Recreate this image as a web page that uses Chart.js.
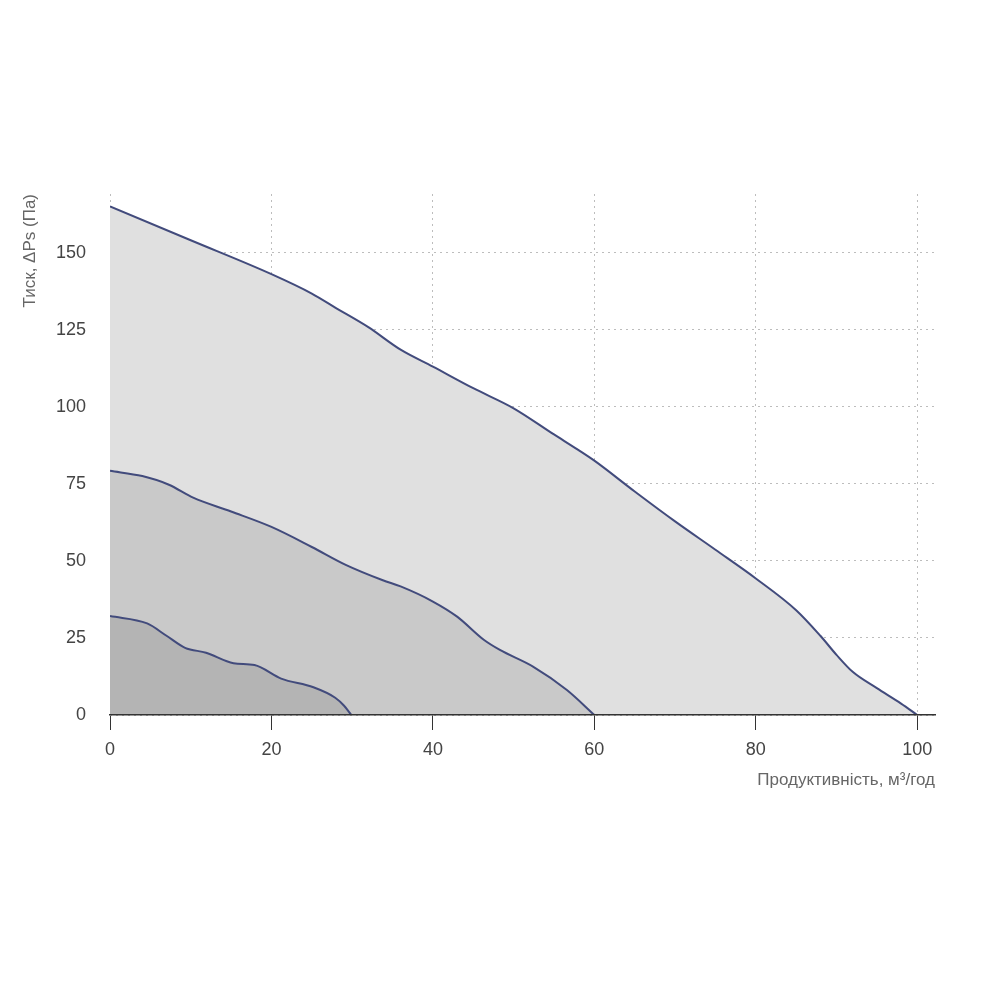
<!DOCTYPE html>
<html>
<head>
<meta charset="utf-8">
<script src="https://cdn.jsdelivr.net/npm/chart.js@4/dist/chart.umd.min.js"></script>
<style>
  html, body { margin: 0; padding: 0; background: #fff; }
  #wrap { width: 1000px; height: 1000px; }
</style>
</head>
<body>
<div id="wrap"><canvas id="fanChart" width="1000" height="1000"></canvas></div>
<script>
// Робочі криві (продуктивність, м³/год -> тиск, Па)
var smallFlow = [0, 4.6, 7, 9.3, 11.9, 15.3, 17.9, 21.2, 25.2, 27.9, 29, 29.9];
var smallPress = [32.1, 29.7, 25.7, 21.8, 20.2, 16.8, 16.2, 11.8, 9, 5.6, 3, 0];

var midFlow = [0, 4, 7.3, 10.3, 15, 20, 25, 29.2, 33.8, 36, 40, 43, 46.3, 48.3, 52.4, 56.6, 60];
var midPress = [79.2, 77.5, 74.7, 70.5, 66, 61, 54.5, 48.7, 43.7, 41.7, 36.8, 31.9, 24.4, 21.1, 15.7, 8.1, 0];

var bigFlow = [0, 10, 20, 25, 28, 32, 36, 40, 45, 50, 55, 58, 60, 65, 70, 75, 80, 85, 88, 90, 92, 95, 98, 100];
var bigPress = [165, 154, 143, 136.7, 132, 125.8, 118.5, 113, 106, 99.5, 91, 86, 82.5, 72.5, 62.8, 53.6, 44.3, 34, 25.7, 19.5, 14, 8.7, 3.7, 0];

var xTitle = "Продуктивність, м³/год";
var yTitle = "Тиск, ΔPs (Па)";

function toPoints(xs, ys) {
    return xs.map(function (x, i) {
        return {x: x, y: ys[i]};
    });
}

function curve(xs, ys, fillColor) {
    return {
        data: toPoints(xs, ys),
        fill: 'origin',
        backgroundColor: fillColor,
        borderColor: "#424b7c",
        borderWidth: 2,
        pointRadius: 0,
        cubicInterpolationMode: 'monotone'
    };
}

var ctx = document.getElementById("fanChart");
new Chart(ctx, {
    type: 'line',
    data: {
        datasets: [
            curve(smallFlow, smallPress, "#b4b4b4"),
            curve(midFlow, midPress, "#c9c9c9"),
            curve(bigFlow, bigPress, "#e0e0e0")
        ]
    },
    options: {
        responsive: false,
        animation: false,
        layout: {padding: {left: 0, right: 65, top: 194, bottom: 209}},
        plugins: {legend: {display: false}, tooltip: {enabled: false}},
        scales: {
            x: {
                type: 'linear',
                min: 0,
                max: 102.2,
                afterFit: function (scale) { scale.height = 76; },
                ticks: {
                    stepSize: 20,
                    includeBounds: false,
                    padding: 9,
                    color: "#444",
                    font: {family: "Liberation Sans", size: 18}
                },
                grid: {
                    color: "#bdbdbd",
                    tickColor: "#333",
                    tickLength: 15,
                    tickBorderDash: []
                },
                border: {display: true, color: "#333", width: 1.5, dash: [2, 4], z: 1},
                title: {
                    display: true,
                    text: xTitle,
                    align: 'end',
                    color: "#666",
                    padding: {top: 0, bottom: 0},
                    font: {family: "Liberation Sans", size: 17}
                }
            },
            y: {
                min: 0,
                max: 169,
                afterFit: function (scale) { scale.width = 110; },
                ticks: {
                    stepSize: 25,
                    includeBounds: false,
                    padding: 24,
                    color: "#444",
                    font: {family: "Liberation Sans", size: 18}
                },
                grid: {color: "#bdbdbd", drawTicks: false},
                border: {display: false, dash: [2, 4]},
                title: {
                    display: true,
                    text: yTitle,
                    align: 'end',
                    color: "#666",
                    padding: {top: 20, bottom: 0},
                    font: {family: "Liberation Sans", size: 17}
                }
            }
        }
    }
});
</script>
</body>
</html>
